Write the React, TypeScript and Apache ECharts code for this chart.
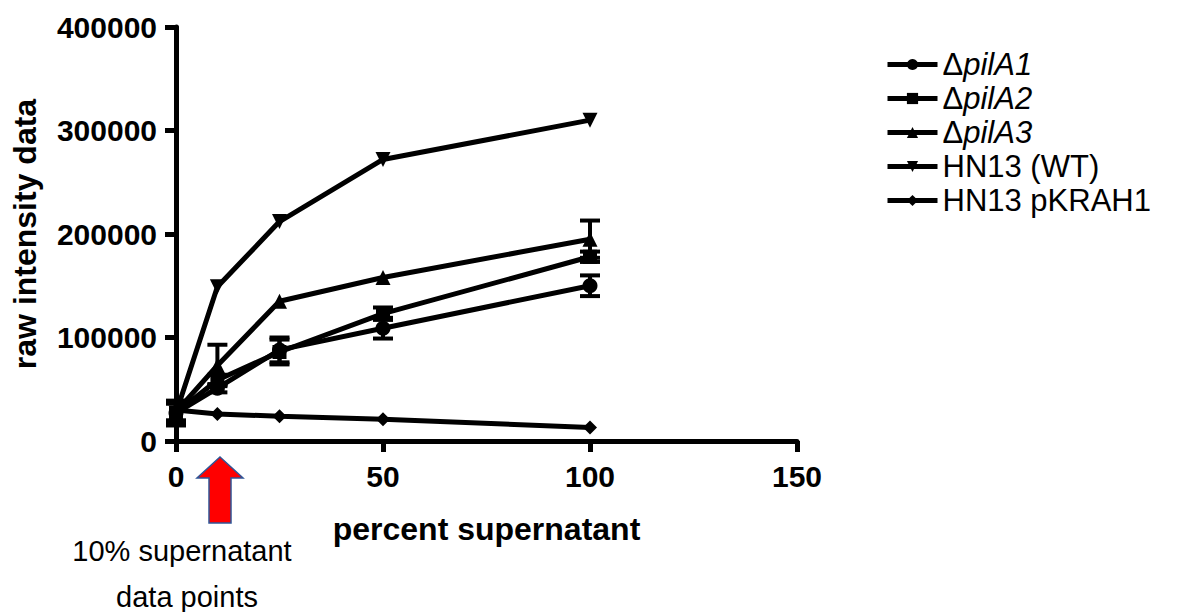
import React, { useEffect, useRef } from "react";
import * as echarts from "echarts";

const xValues = [0, 10, 25, 50, 100];
const seriesNames = ["ΔpilA1", "ΔpilA2", "ΔpilA3", "HN13 (WT)", "HN13 pKRAH1"];
const pilA1 = [27000, 51000, 88000, 109000, 150000];
const pilA1Err = [10000, 4000, 12000, 10000, 10000];
const pilA2 = [27000, 59000, 86000, 123000, 178000];
const pilA2Err = [12000, 5000, 12000, 6000, 5000];
const pilA3 = [28000, 73000, 135000, 158000, 195000];
const pilA3Err = [8000, 20000, 0, 0, 18000];
const wt = [27000, 149000, 212000, 272000, 310000];
const wtErr = [0, 0, 0, 0, 0];
const pkrah1 = [30000, 26000, 24000, 21000, 13000];
const pkrah1Err = [0, 0, 0, 0, 0];
const yTicks = [0, 100000, 200000, 300000, 400000];
const xTicks = [0, 50, 100, 150];

const symbols = ["circle", "rect", "triangle", "triangle", "diamond"];
const rotations = [0, 0, 0, 180, 0];
const sizes = [15, 14, 15, 15, 14];
const FONT = "Liberation Sans, Arial, sans-serif";

export default function App() {
  const ref = useRef<HTMLDivElement>(null);
  useEffect(() => {
    const chart = echarts.init(ref.current!, null, { renderer: "svg" });
    const values = [pilA1, pilA2, pilA3, wt, pkrah1];
    const errs = [pilA1Err, pilA2Err, pilA3Err, wtErr, pkrah1Err];
    const lineSeries: any[] = values.map((v, i) => ({
      name: seriesNames[i],
      type: "line",
      data: xValues.map((x, j) => [x, v[j]]),
      symbol: symbols[i],
      symbolSize: sizes[i],
      symbolRotate: rotations[i],
      lineStyle: { color: "#000", width: 5 },
      itemStyle: { color: "#000" },
      z: 3,
    }));
    const errSeries: any[] = values.map((v, i) => ({
      name: seriesNames[i] + " err",
      type: "custom",
      data: xValues
        .map((x, j) => [x, v[j] - errs[i][j], v[j] + errs[i][j]])
        .filter((d, j) => errs[i][j] > 0),
      renderItem: (params: any, api: any) => {
        const x = api.value(0);
        const lo = api.coord([x, api.value(1)]);
        const hi = api.coord([x, api.value(2)]);
        const w = 10;
        const style = { stroke: "#000", lineWidth: 4 };
        return {
          type: "group",
          children: [
            { type: "line", shape: { x1: lo[0], y1: lo[1], x2: hi[0], y2: hi[1] }, style },
            { type: "line", shape: { x1: lo[0] - w, y1: lo[1], x2: lo[0] + w, y2: lo[1] }, style },
            { type: "line", shape: { x1: hi[0] - w, y1: hi[1], x2: hi[0] + w, y2: hi[1] }, style },
          ],
        };
      },
      z: 2,
      silent: true,
    }));
    const legendFormatter = (name: string) => {
      if (name.startsWith("Δ")) return "{n|Δ}{i|" + name.slice(1) + "}";
      return "{n|" + name + "}";
    };
    chart.setOption({
      animation: false,
      backgroundColor: "#fff",
      textStyle: { fontFamily: FONT },
      grid: { left: 176, right: 393, top: 27, bottom: 171, containLabel: false },
      legend: {
        data: seriesNames,
        orient: "vertical",
        left: 880,
        top: 44,
        itemGap: 3,
        itemWidth: 50,
        itemHeight: 14,
        lineStyle: { width: 5 },
        formatter: legendFormatter,
        textStyle: {
          fontSize: 31,
          color: "#000",
          rich: {
            n: { fontSize: 31, color: "#000", fontFamily: FONT, lineHeight: 31 },
            i: { fontSize: 31, color: "#000", fontStyle: "italic", fontFamily: FONT, lineHeight: 31 },
          },
        },
      },
      xAxis: {
        type: "value",
        min: 0,
        max: 150,
        interval: 50,
        name: "percent supernatant",
        nameLocation: "middle",
        nameGap: 72,
        nameTextStyle: { fontSize: 32, fontWeight: "bold", color: "#000", fontFamily: FONT },
        axisLine: { onZero: false, lineStyle: { color: "#000", width: 5 } },
        axisTick: { show: true, length: 11, lineStyle: { color: "#000", width: 5 } },
        axisLabel: {
          fontSize: 30,
          fontWeight: "bold",
          color: "#000",
          margin: 20,
          formatter: (v: number) => (xTicks.includes(v) ? String(v) : ""),
        },
        splitLine: { show: false },
      },
      yAxis: {
        type: "value",
        min: 0,
        max: 400000,
        interval: 100000,
        name: "raw intensity data",
        nameLocation: "middle",
        nameGap: 135,
        nameTextStyle: { fontSize: 32, fontWeight: "bold", color: "#000", fontFamily: FONT },
        axisLine: { show: true, lineStyle: { color: "#000", width: 5 } },
        axisTick: { show: true, length: 11, lineStyle: { color: "#000", width: 5 } },
        axisLabel: {
          fontSize: 30,
          fontWeight: "bold",
          color: "#000",
          margin: 19,
          formatter: (v: number) => (yTicks.includes(v) ? String(v) : ""),
        },
        splitLine: { show: false },
      },
      series: [...errSeries, ...lineSeries],
      graphic: [
        {
          type: "polygon",
          shape: {
            points: [
              [220, 457],
              [243, 478],
              [231, 478],
              [231, 523],
              [209, 523],
              [209, 478],
              [197, 478],
            ],
          },
          style: { fill: "#ff0000", stroke: "#2f5597", lineWidth: 1.5 },
        },
        {
          type: "text",
          x: 182,
          y: 551,
          style: {
            text: "10% supernatant",
            fill: "#000",
            font: "29px Liberation Sans, Arial",
            align: "center",
            verticalAlign: "middle",
          },
        },
        {
          type: "text",
          x: 187,
          y: 597,
          style: {
            text: "data points",
            fill: "#000",
            font: "29px Liberation Sans, Arial",
            align: "center",
            verticalAlign: "middle",
          },
        },
      ],
    });
    return () => chart.dispose();
  }, []);
  return <div ref={ref} style={{ width: 1190, height: 612, position: "absolute", left: 0, top: 0 }} />;
}
